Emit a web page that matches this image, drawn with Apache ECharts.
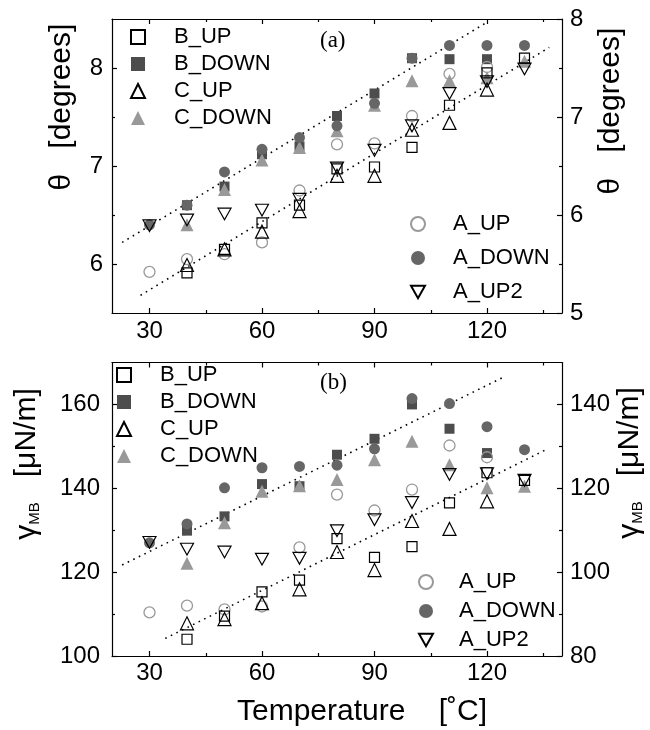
<!DOCTYPE html>
<html><head><meta charset="utf-8">
<script src="https://cdn.jsdelivr.net/npm/echarts@6/dist/echarts.min.js"></script>
<style>html,body{margin:0;padding:0;background:#fff}#c{width:650px;height:730px}</style>
</head><body><div id="c"></div>
<script>
// ---------- data ----------
const temps = [30, 40, 50, 60, 70, 80, 90, 100, 110, 120, 130];

// panel (a): contact angle theta [degrees] (left axis scale)
const thetaB_UP   = [null, 5.91, 6.15, 6.42, 6.60, 6.97, 6.99, 7.19, 7.62, 7.95, 8.10];
const thetaB_DOWN = [null, 6.60, 6.79, 7.12, 7.20, 7.51, 7.74, 8.10, 8.09, 8.09, null];
const thetaC_UP   = [null, 5.99, 6.15, 6.33, 6.54, 6.90, 6.90, 7.37, 7.44, 7.78, null];
const thetaC_DOWN = [null, 6.40, 6.76, 7.06, 7.19, 7.36, 7.62, 7.87, 7.87, 7.90, 8.07];
const thetaA_UP   = [5.92, 6.05, 6.10, 6.22, 6.75, 7.22, 7.23, 7.51, 7.94, 8.01, null];
const thetaA_DOWN = [6.40, 6.60, 6.94, 7.17, 7.29, 7.41, 7.64, 8.10, 8.23, 8.23, 8.23];
const thetaA_UP2  = [6.39, 6.45, 6.51, 6.55, 6.66, 6.98, 7.16, 7.41, 7.74, 7.86, 7.99];
const thetaFitUpper = [[22.7, 6.22], [119.7, 8.46]];
const thetaFitLower = [[27.6, 5.68], [136.6, 8.21]];

// panel (b): gamma_MB [uN/m] (left axis scale)
const gammaB_UP   = [null, 104.0, 109.5, 115.3, 118.1, 128.0, 123.5, 126.1, 136.5, 143.7, 141.9];
const gammaB_DOWN = [null, 129.9, 133.3, 141.0, 140.5, 148.0, 151.8, 160.0, 154.2, 148.4, null];
const gammaC_UP   = [null, 107.8, 108.8, 112.6, 115.9, 124.8, 120.5, 132.2, 130.3, 136.9, null];
const gammaC_DOWN = [null, 122.1, 131.8, 139.3, 140.6, 142.1, 146.8, 151.2, 145.6, 140.1, 140.5];
const gammaA_UP   = [110.4, 112.0, 111.1, 111.8, 125.9, 138.5, 134.7, 139.7, 150.2, 147.4, null];
const gammaA_DOWN = [127.0, 131.5, 140.1, 144.9, 145.2, 145.5, 149.4, 161.4, 160.2, 154.7, 149.2];
const gammaA_UP2  = [127.1, 125.5, 124.8, 123.1, 123.3, 129.9, 132.5, 136.6, 143.3, 143.5, 141.9];
const gammaFitUpper = [[22.7, 121.7], [124.6, 166.6]];
const gammaFitLower = [[34.2, 104.2], [135.7, 149.2]];

// axis ticks / labels
const xLabels = [30, 60, 90, 120];
const xMinor  = [45, 75, 105, 135];
const thetaLeftLabels  = [6, 7, 8];
const thetaLeftMinor   = [6.5, 7.5];
const thetaRightLabels = [5, 6, 7, 8];
const thetaRightMinor  = [5.5, 6.5, 7.5];
const gammaLeftLabels  = [100, 120, 140, 160];
const gammaLeftMinor   = [110, 130, 150];
const gammaRightLabels = [80, 100, 120, 140];
const gammaRightMinor  = [90, 110, 130];

// ---------- styling / building ----------
const FONT = '"Liberation Sans", Arial, sans-serif';
const AX = {color: '#000', width: 1.2};
const INV_TRI = 'path://M0,0L10,0L5,9Z';

function pairs(arr) {
  const out = [];
  arr.forEach((v, i) => { if (v !== null) out.push([temps[i], v]); });
  return out;
}

function xAxesFor(grid, labelMargin) {
  const base = {type: 'value', gridIndex: grid, min: 20, max: 140, splitLine: {show: false}};
  return [
    Object.assign({}, base, {position: 'bottom',
      axisLine: {show: true, onZero: false, lineStyle: AX},
      axisTick: {show: true, inside: true, length: 5, lineStyle: AX, customValues: xLabels},
      axisLabel: {show: true, customValues: xLabels, margin: labelMargin, fontSize: 24, fontFamily: FONT, color: '#000'}}),
    Object.assign({}, base, {position: 'bottom',
      axisLine: {show: false, onZero: false},
      axisTick: {show: true, inside: true, length: 3, lineStyle: AX, customValues: xMinor},
      axisLabel: {show: false}}),
    Object.assign({}, base, {position: 'top',
      axisLine: {show: true, onZero: false, lineStyle: AX},
      axisTick: {show: true, inside: true, length: 5, lineStyle: AX, customValues: xLabels},
      axisLabel: {show: false}}),
    Object.assign({}, base, {position: 'top',
      axisLine: {show: false, onZero: false},
      axisTick: {show: true, inside: true, length: 3, lineStyle: AX, customValues: xMinor},
      axisLabel: {show: false}})
  ];
}

function yAxesFor(grid, lmin, lmax, lLab, lMin, rmin, rmax, rLab, rMin, lMargin) {
  const mk = (pos, min, max, ticks, len, labels, margin) => ({
    type: 'value', gridIndex: grid, position: pos, min: min, max: max,
    splitLine: {show: false},
    axisLine: {show: labels !== null, onZero: false, lineStyle: AX},
    axisTick: {show: true, inside: true, length: len, lineStyle: AX, customValues: ticks},
    axisLabel: labels === null ? {show: false} :
      {show: true, customValues: labels, margin: margin, fontSize: 24, fontFamily: FONT, color: '#000'}
  });
  return [
    mk('left', lmin, lmax, lLab, 5, lLab, lMargin),
    mk('left', lmin, lmax, lMin, 3, null),
    mk('right', rmin, rmax, rLab, 5, rLab, 8),
    mk('right', rmin, rmax, rMin, 3, null)
  ];
}

const seriesDefs = [
  {name: 'B_DOWN', key: 'B_DOWN', symbol: 'rect', size: 10, fill: '#4d4d4d', stroke: '#4d4d4d', bw: 0},
  {name: 'C_DOWN', key: 'C_DOWN', symbol: 'triangle', size: 13, fill: '#999999', stroke: '#999999', bw: 0},
  {name: 'A_DOWN', key: 'A_DOWN', symbol: 'circle', size: 11, fill: '#666666', stroke: '#666666', bw: 0},
  {name: 'A_UP', key: 'A_UP', symbol: 'circle', size: 11, fill: 'rgba(255,255,255,0)', stroke: '#999999', bw: 1.3},
  {name: 'B_UP', key: 'B_UP', symbol: 'rect', size: 10, fill: 'rgba(255,255,255,0)', stroke: '#000', bw: 1.2},
  {name: 'C_UP', key: 'C_UP', symbol: 'triangle', size: 13, fill: 'rgba(255,255,255,0)', stroke: '#000', bw: 1.2},
  {name: 'A_UP2', key: 'A_UP2', symbol: INV_TRI, size: 13, fill: 'rgba(255,255,255,0)', stroke: '#000', bw: 1.2}
];
const panelA = {B_UP: thetaB_UP, B_DOWN: thetaB_DOWN, C_UP: thetaC_UP, C_DOWN: thetaC_DOWN, A_UP: thetaA_UP, A_DOWN: thetaA_DOWN, A_UP2: thetaA_UP2};
const panelB = {B_UP: gammaB_UP, B_DOWN: gammaB_DOWN, C_UP: gammaC_UP, C_DOWN: gammaC_DOWN, A_UP: gammaA_UP, A_DOWN: gammaA_DOWN, A_UP2: gammaA_UP2};

const series = [];
function fitLine(data, xi, yi) {
  series.push({type: 'line', name: 'fit', xAxisIndex: xi, yAxisIndex: yi, data: data,
    showSymbol: false, symbol: 'none', silent: true, z: 1,
    lineStyle: {color: '#000', width: 1.6, type: [1.6, 4.6]}});
}
fitLine(thetaFitUpper, 0, 0); fitLine(thetaFitLower, 0, 0);
fitLine(gammaFitUpper, 4, 4); fitLine(gammaFitLower, 4, 4);
[[panelA, 0], [panelB, 4]].forEach(([panel, idx]) => {
  seriesDefs.forEach(d => {
    series.push({type: 'scatter', name: d.name, xAxisIndex: idx, yAxisIndex: idx,
      data: pairs(panel[d.key]), symbol: d.symbol, symbolSize: d.size, symbolKeepAspect: true, z: 3,
      itemStyle: {color: d.fill, borderColor: d.stroke, borderWidth: d.bw, opacity: 1}});
  });
});

// icon centred at iconX, text starting at textX, first row centred at firstY
function legend(names, iconX, textX, firstY, gap) {
  const s = 14;
  return {show: true, orient: 'vertical', align: 'left', left: iconX - s / 2, top: firstY - 11, padding: 0,
    itemWidth: s, itemHeight: s, itemGap: gap, selectedMode: false, data: names,
    textStyle: {fontSize: 22, fontFamily: FONT, color: '#000', padding: [0, 0, 0, textX - (iconX + s / 2 + 5)]}};
}

const option = {
  animation: false,
  backgroundColor: '#fff',
  grid: [
    {left: 112, top: 19, width: 450, height: 294, outerBoundsMode: 'none'},
    {left: 112, top: 362.5, width: 450, height: 293.5, outerBoundsMode: 'none'}
  ],
  xAxis: xAxesFor(0, 6).concat(xAxesFor(1, 5)),
  yAxis: yAxesFor(0, 5.5, 8.5, thetaLeftLabels, thetaLeftMinor, 5, 8, thetaRightLabels, thetaRightMinor, 9)
    .concat(yAxesFor(1, 100, 170, gammaLeftLabels, gammaLeftMinor, 80, 150, gammaRightLabels, gammaRightMinor, 12)),
  legend: [
    legend(['B_UP', 'B_DOWN', 'C_UP', 'C_DOWN'], 137, 173, 37, 5),
    legend(['A_UP', 'A_DOWN', 'A_UP2'], 417, 452, 224, 12),
    legend(['B_UP', 'B_DOWN', 'C_UP', 'C_DOWN'], 123, 159, 375, 5),
    legend(['A_UP', 'A_DOWN', 'A_UP2'], 425, 458, 582, 7)
  ],
  graphic: [
    {type: 'text', left: 320, top: 29, style: {text: '(a)', fontSize: 23, fontFamily: '"Liberation Serif", "Times New Roman", serif', fill: '#000'}},
    {type: 'text', left: 320, top: 371, style: {text: '(b)', fontSize: 23, fontFamily: '"Liberation Serif", "Times New Roman", serif', fill: '#000'}},
    {type: 'text', x: 62, y: 107, rotation: Math.PI / 2,
      style: {text: 'θ   [degrees]', fontSize: 30, fontFamily: FONT, fill: '#000', align: 'center', verticalAlign: 'middle'}},
    {type: 'text', x: 611, y: 111, rotation: Math.PI / 2,
      style: {text: 'θ   [degrees]', fontSize: 30, fontFamily: FONT, fill: '#000', align: 'center', verticalAlign: 'middle'}},
    {type: 'text', x: 27, y: 464, rotation: Math.PI / 2,
      style: {text: '{g|γ}{s|MB}{n|   [μN/m]}', align: 'center', verticalAlign: 'middle', fill: '#000',
        rich: {g: {fontSize: 30, fontFamily: FONT, fill: '#000'},
               s: {fontSize: 15, fontFamily: FONT, fill: '#000', verticalAlign: 'bottom'},
               n: {fontSize: 30, fontFamily: FONT, fill: '#000'}}}},
    {type: 'text', x: 630, y: 463, rotation: Math.PI / 2,
      style: {text: '{g|γ}{s|MB}{n|   [μN/m]}', align: 'center', verticalAlign: 'middle', fill: '#000',
        rich: {g: {fontSize: 30, fontFamily: FONT, fill: '#000'},
               s: {fontSize: 15, fontFamily: FONT, fill: '#000', verticalAlign: 'bottom'},
               n: {fontSize: 30, fontFamily: FONT, fill: '#000'}}}},
    {type: 'text', x: 362, y: 712,
      style: {text: 'Temperature    [˚C]', fontSize: 30, fontFamily: FONT, fill: '#000', align: 'center', verticalAlign: 'middle'}}
  ],
  series: series
};

const chart = echarts.init(document.getElementById('c'), null, {renderer: 'canvas'});
chart.setOption(option);
</script>
</body></html>
